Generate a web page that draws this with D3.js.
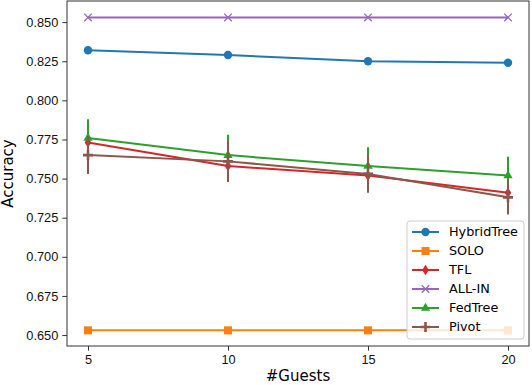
<!DOCTYPE html>
<meta charset="UTF-8">
<style>
body { margin: 0; background: #fff; }
svg { display: block; font-family: "DejaVu Sans", sans-serif; }
.axis path, .axis line { stroke: #333; }
.axis text { fill: #111; font-size: 12.8px; }
</style>
<body>
<script src="https://d3js.org/d3.v7.min.js"></script>
<script>

// data
var guests = [5, 10, 15, 20];
var hybridTree = [0.832, 0.829, 0.825, 0.824];
var solo = [0.653, 0.653, 0.653, 0.653];
var tfl = [0.773, 0.758, 0.752, 0.741];
var tflErr = [0.010, 0.010, 0.010, 0.010];
var allIn = [0.853, 0.853, 0.853, 0.853];
var fedTree = [0.776, 0.765, 0.758, 0.752];
var fedTreeErr = [0.012, 0.013, 0.012, 0.012];
var pivot = [0.765, 0.761, 0.753, 0.738];
var pivotErr = [0.012, 0.013, 0.012, 0.011];
var yTicks = [0.650, 0.675, 0.700, 0.725, 0.750, 0.775, 0.800, 0.825, 0.850];

var series = [
  {name: "HybridTree", values: hybridTree, err: null, color: "#1f77b4", marker: "circle"},
  {name: "SOLO", values: solo, err: null, color: "#ff7f0e", marker: "square"},
  {name: "TFL", values: tfl, err: tflErr, color: "#d62728", marker: "diamond"},
  {name: "ALL-IN", values: allIn, err: null, color: "#9467bd", marker: "x"},
  {name: "FedTree", values: fedTree, err: fedTreeErr, color: "#2ca02c", marker: "triangle"},
  {name: "Pivot", values: pivot, err: pivotErr, color: "#8c564b", marker: "plus"}
];

var W = 532, H = 385;
var margin = {top: 1, right: 3, bottom: 39, left: 67};
var width = W - margin.left - margin.right,
    height = H - margin.top - margin.bottom;

var svg = d3.select("body").append("svg")
    .attr("width", W)
    .attr("height", H);

var g = svg.append("g")
    .attr("transform", "translate(" + margin.left + "," + margin.top + ")");

var x = d3.scaleLinear().domain([4.25, 20.75]).range([0, width]);
var y = d3.scaleLinear().domain([0.643, 0.8635]).range([height, 0]);

// axes
g.append("g")
    .attr("class", "axis")
    .attr("transform", "translate(0," + height + ")")
    .call(d3.axisBottom(x).tickValues(guests).tickSize(4.7).tickPadding(4).tickFormat(d3.format("d")));

g.append("g")
    .attr("class", "axis")
    .call(d3.axisLeft(y).tickValues(yTicks).tickSize(4.7).tickPadding(4).tickFormat(d3.format(".3f")));

g.selectAll(".axis path").remove();

// frame
g.append("rect")
    .attr("width", width)
    .attr("height", height)
    .attr("fill", "none")
    .attr("stroke", "#333")
    .attr("stroke-width", 1);

// axis labels
svg.append("text")
    .attr("x", margin.left + width / 2)
    .attr("y", 381)
    .attr("text-anchor", "middle")
    .style("font-size", "15px")
    .text("#Guests");

svg.append("text")
    .attr("transform", "translate(13," + (margin.top + height / 2) + ") rotate(-90)")
    .attr("text-anchor", "middle")
    .style("font-size", "15px")
    .text("Accuracy");

function drawMarker(sel, type, color) {
  if (type == "circle") {
    sel.append("circle").attr("r", 4.2).attr("fill", color);
  } else if (type == "square") {
    sel.append("rect").attr("x", -4).attr("y", -4).attr("width", 8).attr("height", 8).attr("fill", color);
  } else if (type == "diamond") {
    sel.append("path").attr("d", "M0,-5.2L3.3,0L0,5.2L-3.3,0Z").attr("fill", color);
  } else if (type == "x") {
    sel.append("path").attr("d", "M-3.8,-3.8L3.8,3.8M-3.8,3.8L3.8,-3.8")
      .attr("stroke", color).attr("stroke-width", 1.3).attr("fill", "none");
  } else if (type == "triangle") {
    sel.append("path").attr("d", "M0,-5.3L4.6,2.8L-4.6,2.8Z").attr("fill", color);
  } else if (type == "plus") {
    sel.append("path").attr("d", "M-1.3,-5H1.3V-1.3H5V1.3H1.3V5H-1.3V1.3H-5V-1.3H-1.3Z").attr("fill", color);
  }
}

var line = d3.line()
    .x(function(d) { return x(d.x); })
    .y(function(d) { return y(d.y); });

var plot = g.append("g");

series.forEach(function(s) {
  var pts = guests.map(function(gv, i) {
    return {x: gv, y: s.values[i], e: s.err ? s.err[i] : 0};
  });

  plot.append("path")
      .datum(pts)
      .attr("fill", "none")
      .attr("stroke", s.color)
      .attr("stroke-width", 2)
      .attr("d", line);

  if (s.err) {
    plot.selectAll(null)
      .data(pts)
      .enter().append("line")
        .attr("x1", function(d) { return x(d.x); })
        .attr("x2", function(d) { return x(d.x); })
        .attr("y1", function(d) { return y(d.y - d.e); })
        .attr("y2", function(d) { return y(d.y + d.e); })
        .attr("stroke", s.color)
        .attr("stroke-width", 2);
  }

  pts.forEach(function(d) {
    var m = plot.append("g")
        .attr("transform", "translate(" + x(d.x) + "," + y(d.y) + ")");
    drawMarker(m, s.marker, s.color);
  });
});

// legend
var lg = svg.append("g").attr("transform", "translate(407,221)");
lg.append("rect")
    .attr("width", 117)
    .attr("height", 118)
    .attr("rx", 3)
    .attr("fill", "#fff")
    .attr("fill-opacity", 0.8)
    .attr("stroke", "#ccc")
    .attr("stroke-width", 1);

series.forEach(function(s, i) {
  var row = lg.append("g").attr("transform", "translate(0," + (11 + i * 19) + ")");
  row.append("line")
      .attr("x1", 5).attr("x2", 32)
      .attr("stroke", s.color)
      .attr("stroke-width", 2);
  var m = row.append("g").attr("transform", "translate(18.5,0)");
  drawMarker(m, s.marker, s.color);
  row.append("text")
      .attr("x", 42)
      .attr("dy", "0.35em")
      .style("font-size", "12.8px")
      .text(s.name);
});

</script>
</body>
